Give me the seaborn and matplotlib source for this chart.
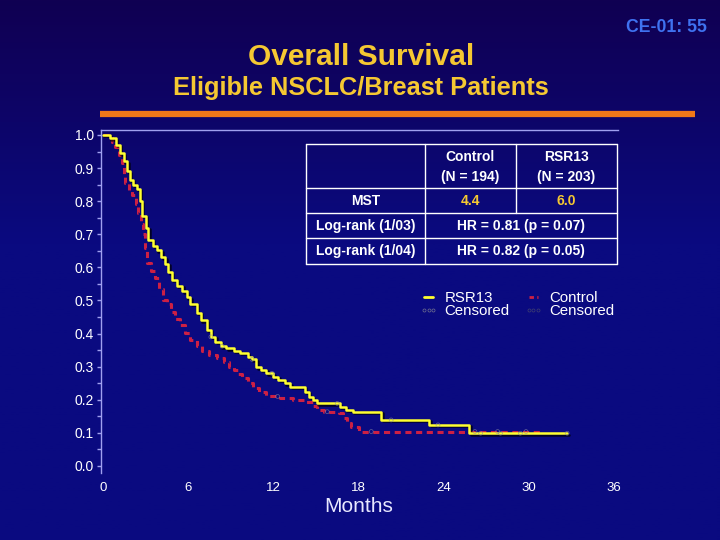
import numpy as np
import pandas as pd
import matplotlib.pyplot as plt
import matplotlib.patheffects as pe
from matplotlib.lines import Line2D
import seaborn as sns

# Kaplan-Meier steps (months, survival)
rsr13_months = [0, 0.5, 0.9, 1.2, 1.45, 1.7, 1.9, 2.1, 2.4, 2.6, 2.75, 3.0, 3.2, 3.5, 3.8,
                4.1, 4.4, 4.6, 4.85, 5.2, 5.6, 5.9, 6.15, 6.6, 6.9, 7.3, 7.6, 7.9, 8.3, 8.7,
                9.2, 9.65, 10.2, 10.5, 10.8, 11.1, 11.5, 12.0, 12.35, 12.8, 13.2, 14.2, 14.5,
                14.8, 15.05, 16.7, 17.1, 17.6, 19.6, 23.0, 25.8, 32.7]
rsr13_surv = [1.0, 0.99, 0.97, 0.945, 0.92, 0.89, 0.865, 0.85, 0.838, 0.80, 0.755, 0.72, 0.683,
              0.665, 0.652, 0.63, 0.61, 0.585, 0.562, 0.545, 0.528, 0.51, 0.49, 0.462, 0.44,
              0.411, 0.39, 0.376, 0.362, 0.355, 0.348, 0.342, 0.33, 0.322, 0.298, 0.29, 0.28,
              0.27, 0.26, 0.25, 0.24, 0.225, 0.209, 0.2, 0.189, 0.179, 0.169, 0.164, 0.139,
              0.124, 0.099, 0.099]

control_months = [0, 0.35, 0.6, 0.85, 1.1, 1.32, 1.45, 1.55, 1.8, 2.02, 2.3, 2.49, 2.65, 2.8,
                  2.95, 3.12, 3.4, 3.66, 3.95, 4.25, 4.5, 4.8, 5.1, 5.4, 5.78, 6.1, 6.6, 7.0,
                  7.5, 8.0, 8.5, 8.9, 9.2, 9.5, 9.8, 10.2, 10.6, 11.0, 11.5, 12.5, 13.4, 14.3,
                  14.8, 15.1, 15.6, 16.6, 16.9, 17.2, 17.5, 18.0, 31.0]
control_surv = [1.0, 1.0, 0.98, 0.965, 0.94, 0.914, 0.88, 0.854, 0.835, 0.819, 0.79, 0.763,
                0.73, 0.70, 0.66, 0.612, 0.59, 0.567, 0.535, 0.50, 0.49, 0.465, 0.445, 0.425,
                0.401, 0.38, 0.361, 0.348, 0.335, 0.325, 0.315, 0.30, 0.29, 0.278, 0.265, 0.25,
                0.235, 0.222, 0.21, 0.205, 0.20, 0.194, 0.18, 0.169, 0.164, 0.159, 0.144, 0.13,
                0.119, 0.104, 0.104]

rsr13_censored = [7.6, 8.4, 10.5, 11.9, 16.5, 20.3, 23.6, 26.6, 28.0, 29.4, 32.7]
control_censored = [12.3, 15.8, 18.9, 26.2, 27.8, 29.8]

x_ticks = [0, 6, 12, 18, 24, 30, 36]
x_minor = [2, 4, 10, 11, 15, 16, 21, 22, 27, 28, 33]
y_ticks = np.round(np.arange(0, 1.01, 0.1), 1)

table_header = [("Control", "(N = 194)"), ("RSR13", "(N = 203)")]
mst_values = ["4.4", "6.0"]
logrank_rows = [("Log-rank (1/03)", "HR = 0.81 (p = 0.07)"),
                ("Log-rank (1/04)", "HR = 0.82 (p = 0.05)")]

sns.set_theme(style="dark")
plt.rcParams['font.family'] = ['Liberation Sans', 'DejaVu Sans']

W, H = 720, 540
BG = '#0a0a7e'
LAV = '#a0a0f0'
GOLD = '#f5c832'

def fx(x):
    return x / W

def fy(y):
    return 1 - y / H

fig = plt.figure(figsize=(7.2, 5.4), dpi=100)

# background gradient (darker at top)
bg = fig.add_axes([0, 0, 1, 1], zorder=-10)
grad = np.linspace(0, 1, 256)
grad = np.clip(grad / 0.45, 0, 1)[:, None]
top = np.array([0x10, 0x00, 0x52]) / 255
bot = np.array([0x0a, 0x0a, 0x80]) / 255
img = top[None, None, :] * (1 - grad[:, :, None]) + bot[None, None, :] * grad[:, :, None]
bg.imshow(img, aspect='auto', extent=[0, 1, 0, 1])
bg.set_axis_off()

ax = fig.add_axes([fx(101), fy(472.6), fx(618) - fx(101), fy(130) - fy(472.6)])
ax.set_facecolor('none')

df = pd.concat([
    pd.DataFrame({'Months': rsr13_months, 'Survival': rsr13_surv, 'Arm': 'RSR13'}),
    pd.DataFrame({'Months': control_months, 'Survival': control_surv, 'Arm': 'Control'}),
])

sns.lineplot(data=df[df.Arm == 'Control'], x='Months', y='Survival', ax=ax,
             color='#cc2044', lw=2.2, drawstyle='steps-post', estimator=None,
             linestyle=(0, (2.0, 1.5)), legend=False)
sns.lineplot(data=df[df.Arm == 'RSR13'], x='Months', y='Survival', ax=ax,
             color='#ffff30', lw=1.8, drawstyle='steps-post', estimator=None, legend=False,
             path_effects=[pe.SimpleLineShadow(offset=(1, -1), shadow_color='black', alpha=0.7),
                           pe.Normal()])

def step_value(t, months, surv):
    i = np.searchsorted(months, t, side='right') - 1
    return surv[max(i, 0)]

ax.scatter(rsr13_censored, [step_value(t, rsr13_months, rsr13_surv) for t in rsr13_censored],
           s=8, facecolors='none', edgecolors='#8888a0', linewidths=0.5, alpha=0.7, zorder=5)
ax.scatter(control_censored, [step_value(t, control_months, control_surv) for t in control_censored],
           s=8, facecolors='none', edgecolors='#8888a0', linewidths=0.5, alpha=0.7, zorder=5)

ax.set_xlim(-0.14, 36.28)
ax.set_ylim(-0.02, 1.015)
ax.set_xticks(x_ticks)
ax.set_xticklabels([str(t) for t in x_ticks])
ax.set_xticks(x_minor, minor=True)
ax.set_yticks(y_ticks)
ax.set_yticklabels([f"{v:.1f}" for v in y_ticks])
ax.set_yticks(np.arange(0.05, 1.0, 0.1), minor=True)
ax.tick_params(axis='x', which='major', length=0, pad=7, labelsize=9.5, labelcolor='white')
ax.tick_params(axis='x', which='minor', length=2, width=1, color=LAV, direction='inout')
ax.tick_params(axis='y', which='major', length=3, width=1, color=LAV, pad=2,
               labelsize=10, labelcolor='white', left=True)
ax.tick_params(axis='y', which='minor', length=3, width=1, color=LAV, left=True)
ax.set_xlabel('')
ax.set_ylabel('')
ax.grid(False)
for side in ['bottom', 'right']:
    ax.spines[side].set_visible(False)
for side in ['top', 'left']:
    ax.spines[side].set_visible(True)
    ax.spines[side].set_color(LAV)
    ax.spines[side].set_linewidth(1)

# legend
handles = [
    Line2D([], [], color='#ffff30', lw=2),
    Line2D([], [], color='#707090', lw=0, marker='o', markersize=2.2, markerfacecolor='none',
           markeredgewidth=0.5),
    Line2D([], [], color='#cc2044', lw=2, linestyle=(0, (1.6, 1.2))),
    Line2D([], [], color='#404070', lw=0, marker='o', markersize=2.2, markerfacecolor='none',
           markeredgewidth=0.5),
]
leg = fig.legend(handles, ['RSR13', 'Censored', 'Control', 'Censored'], ncol=2,
                 loc='upper left', bbox_to_anchor=(fx(412), fy(284)), frameon=False,
                 fontsize=10.8, labelcolor='white', labelspacing=-0.08, handlelength=1.2,
                 handletextpad=0.45, columnspacing=1.0, numpoints=3, borderpad=0)

# results table
tl, tr, tt, tb = 306, 617, 144, 264
c1, c2 = 425, 516
rows = [188, 213, 238]
lc = 'white'
for y in [tt, tb] + rows:
    fig.add_artist(Line2D([fx(tl), fx(tr)], [fy(y), fy(y)], color=lc, lw=1))
for x in [tl, tr, c1]:
    fig.add_artist(Line2D([fx(x), fx(x)], [fy(tt), fy(tb)], color=lc, lw=1))
fig.add_artist(Line2D([fx(c2), fx(c2)], [fy(tt), fy(rows[1])], color=lc, lw=1))

tkw = dict(ha='center', va='center', color='white', fontsize=10, fontweight='bold')
for (name, n), xc in zip(table_header, [(c1 + c2) / 2, (c2 + tr) / 2]):
    fig.text(fx(xc), fy(157), name, **tkw)
    fig.text(fx(xc), fy(177), n, **tkw)
fig.text(fx((tl + c1) / 2), fy(201), "MST", **tkw)
for v, xc in zip(mst_values, [(c1 + c2) / 2, (c2 + tr) / 2]):
    fig.text(fx(xc), fy(201), v, **{**tkw, 'color': GOLD})
for (lab, hr), yc in zip(logrank_rows, [226, 251.5]):
    fig.text(fx((tl + c1) / 2), fy(yc), lab, **tkw)
    fig.text(fx((c1 + tr) / 2), fy(yc), hr, **tkw)

# titles and decorations
fig.text(fx(361), fy(57), "Overall Survival", ha='center', va='center',
         color=GOLD, fontsize=21.5, fontweight='bold')
fig.text(fx(361), fy(88), "Eligible NSCLC/Breast Patients", ha='center', va='center',
         color=GOLD, fontsize=18.3, fontweight='bold')
fig.text(fx(707), fy(27), "CE-01: 55", ha='right', va='center',
         color='#3f72f0', fontsize=12.7, fontweight='bold')
fig.add_artist(Line2D([fx(100), fx(695)], [fy(114), fy(114)], color='#f07818', lw=4.5,
                      solid_capstyle='butt'))
fig.text(fx(359), fy(506), "Months", ha='center', va='center', color='#e8e8ff', fontsize=15)

fig.savefig('out.png', dpi=100, facecolor=BG)
